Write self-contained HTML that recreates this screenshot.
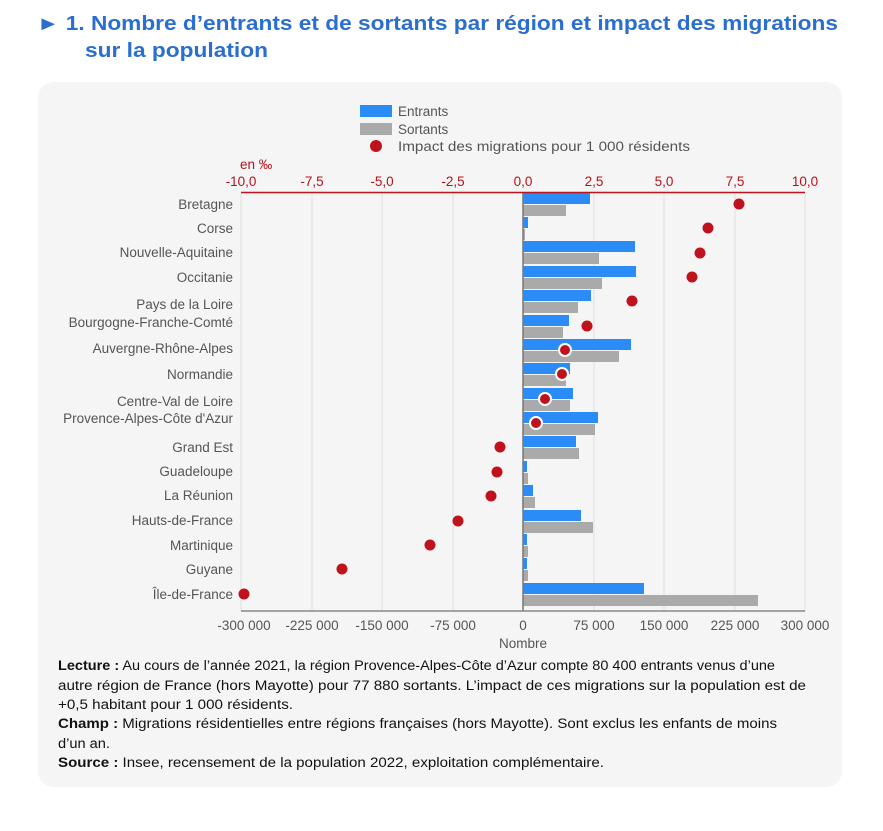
<!DOCTYPE html>
<html><head><meta charset="utf-8"><style>
body{margin:0;background:#fff;width:883px;height:831px;overflow:hidden}
svg{display:block;font-family:"Liberation Sans",sans-serif}
</style></head><body>
<svg width="883" height="831" viewBox="0 0 883 831">
<text x="37" y="30" font-size="20" font-weight="bold" fill="#2a6fd0" textLength="801" lengthAdjust="spacingAndGlyphs">► 1. Nombre d’entrants et de sortants par région et impact des migrations</text>
<text x="85" y="57" font-size="20" font-weight="bold" fill="#2a6fd0" textLength="183" lengthAdjust="spacingAndGlyphs">sur la population</text>
<rect x="38" y="82" width="804" height="705" rx="16" fill="#f5f5f5"/>
<!-- legend -->
<rect x="360" y="105" width="32" height="12" fill="#2b8cf7"/>
<text x="398" y="116" font-size="13.5" fill="#555">Entrants</text>
<rect x="360" y="123" width="32" height="12" fill="#aaaaaa"/>
<text x="398" y="134" font-size="13.5" fill="#555">Sortants</text>
<circle cx="376" cy="146" r="6" fill="#c0121c"/>
<text x="398" y="151" font-size="13.5" fill="#555" textLength="292" lengthAdjust="spacingAndGlyphs">Impact des migrations pour 1 000 résidents</text>
<!-- top axis -->
<text x="240" y="169" font-size="13.5" fill="#b5121b">en ‰</text>
<g font-size="13.5" fill="#b5121b" text-anchor="middle">
<text x="241" y="186">-10,0</text><text x="312" y="186">-7,5</text><text x="382" y="186">-5,0</text><text x="453" y="186">-2,5</text><text x="523" y="186">0,0</text><text x="594" y="186">2,5</text><text x="664" y="186">5,0</text><text x="735" y="186">7,5</text><text x="805" y="186">10,0</text>
</g>
<!-- grid -->
<g stroke="#e0e0e0" stroke-width="1">
<line x1="241" y1="193" x2="241" y2="611"/><line x1="312" y1="193" x2="312" y2="611"/><line x1="382" y1="193" x2="382" y2="611"/><line x1="453" y1="193" x2="453" y2="611"/><line x1="594" y1="193" x2="594" y2="611"/><line x1="664" y1="193" x2="664" y2="611"/><line x1="735" y1="193" x2="735" y2="611"/><line x1="805" y1="193" x2="805" y2="611"/>
</g>
<!-- bars -->
<g fill="#2b8cf7">
<rect x="523" y="193" width="67" height="11"/>
<rect x="523" y="217" width="5" height="11"/>
<rect x="523" y="241" width="112" height="11"/>
<rect x="523" y="266" width="113" height="11"/>
<rect x="523" y="290" width="68" height="11"/>
<rect x="523" y="315" width="46" height="11"/>
<rect x="523" y="339" width="108" height="11"/>
<rect x="523" y="363" width="47" height="11"/>
<rect x="523" y="388" width="50" height="11"/>
<rect x="523" y="412" width="75" height="11"/>
<rect x="523" y="436" width="53" height="11"/>
<rect x="523" y="461" width="4" height="11"/>
<rect x="523" y="485" width="10" height="11"/>
<rect x="523" y="510" width="58" height="11"/>
<rect x="523" y="534" width="4" height="11"/>
<rect x="523" y="558" width="4" height="11"/>
<rect x="523" y="583" width="121" height="11"/>
</g>
<g fill="#aaaaaa">
<rect x="523" y="205" width="43" height="11"/>
<rect x="523" y="229" width="2" height="11"/>
<rect x="523" y="253" width="76" height="11"/>
<rect x="523" y="278" width="79" height="11"/>
<rect x="523" y="302" width="55" height="11"/>
<rect x="523" y="327" width="40" height="11"/>
<rect x="523" y="351" width="96" height="11"/>
<rect x="523" y="375" width="43" height="11"/>
<rect x="523" y="400" width="47" height="11"/>
<rect x="523" y="424" width="72" height="11"/>
<rect x="523" y="448" width="56" height="11"/>
<rect x="523" y="473" width="5" height="11"/>
<rect x="523" y="497" width="12" height="11"/>
<rect x="523" y="522" width="70" height="11"/>
<rect x="523" y="546" width="5" height="11"/>
<rect x="523" y="570" width="5" height="11"/>
<rect x="523" y="595" width="235" height="11"/>
</g>
<line x1="523" y1="193" x2="523" y2="611" stroke="#777" stroke-width="1.5"/>
<line x1="241" y1="192.5" x2="805" y2="192.5" stroke="#c0121c" stroke-width="1.5"/>
<line x1="241" y1="611" x2="805" y2="611" stroke="#888" stroke-width="1.5"/>
<!-- dots -->
<g fill="#c0121c">
<circle cx="739" cy="204" r="5.5"/><circle cx="708" cy="228" r="5.5"/><circle cx="700" cy="253" r="5.5"/><circle cx="692" cy="277" r="5.5"/><circle cx="632" cy="301" r="5.5"/><circle cx="587" cy="326" r="5.5"/>
<circle cx="565" cy="350" r="6" stroke="#fff" stroke-width="2"/><circle cx="562" cy="374" r="6" stroke="#fff" stroke-width="2"/><circle cx="545" cy="399" r="6" stroke="#fff" stroke-width="2"/><circle cx="536" cy="423" r="6" stroke="#fff" stroke-width="2"/>
<circle cx="500" cy="447" r="5.5"/><circle cx="497" cy="472" r="5.5"/><circle cx="491" cy="496" r="5.5"/><circle cx="458" cy="521" r="5.5"/><circle cx="430" cy="545" r="5.5"/><circle cx="342" cy="569" r="5.5"/><circle cx="244" cy="594" r="5.5"/>
</g>
<!-- labels -->
<g font-size="13.5" fill="#555" text-anchor="end">
<text x="233" y="209">Bretagne</text><text x="233" y="233">Corse</text><text x="233" y="257">Nouvelle-Aquitaine</text><text x="233" y="282">Occitanie</text><text x="233" y="309">Pays de la Loire</text><text x="233" y="327">Bourgogne-Franche-Comté</text><text x="233" y="353">Auvergne-Rhône-Alpes</text><text x="233" y="379">Normandie</text><text x="233" y="406">Centre-Val de Loire</text><text x="233" y="423">Provence-Alpes-Côte d'Azur</text><text x="233" y="452">Grand Est</text><text x="233" y="476">Guadeloupe</text><text x="233" y="500">La Réunion</text><text x="233" y="525">Hauts-de-France</text><text x="233" y="550">Martinique</text><text x="233" y="574">Guyane</text><text x="233" y="599">Île-de-France</text>
</g>
<g font-size="13.5" fill="#555" text-anchor="middle">
<text x="244" y="630">-300 000</text><text x="312" y="630">-225 000</text><text x="382" y="630">-150 000</text><text x="453" y="630">-75 000</text><text x="523" y="630">0</text><text x="594" y="630">75 000</text><text x="664" y="630">150 000</text><text x="735" y="630">225 000</text><text x="805" y="630">300 000</text>
<text x="523" y="648">Nombre</text>
</g>
<g font-size="13.5" fill="#111">
<text x="58" y="670" textLength="717" lengthAdjust="spacingAndGlyphs"><tspan font-weight="bold">Lecture :</tspan> Au cours de l’année 2021, la région Provence-Alpes-Côte d’Azur compte 80 400 entrants venus d’une</text>
<text x="58" y="690" textLength="748" lengthAdjust="spacingAndGlyphs">autre région de France (hors Mayotte) pour 77 880 sortants. L’impact de ces migrations sur la population est de</text>
<text x="58" y="709" textLength="235" lengthAdjust="spacingAndGlyphs">+0,5 habitant pour 1 000 résidents.</text>
<text x="58" y="728" textLength="719" lengthAdjust="spacingAndGlyphs"><tspan font-weight="bold">Champ :</tspan> Migrations résidentielles entre régions françaises (hors Mayotte). Sont exclus les enfants de moins</text>
<text x="58" y="748" textLength="52" lengthAdjust="spacingAndGlyphs">d’un an.</text>
<text x="58" y="767" textLength="546" lengthAdjust="spacingAndGlyphs"><tspan font-weight="bold">Source :</tspan> Insee, recensement de la population 2022, exploitation complémentaire.</text>
</g>
</svg>
</body></html>
